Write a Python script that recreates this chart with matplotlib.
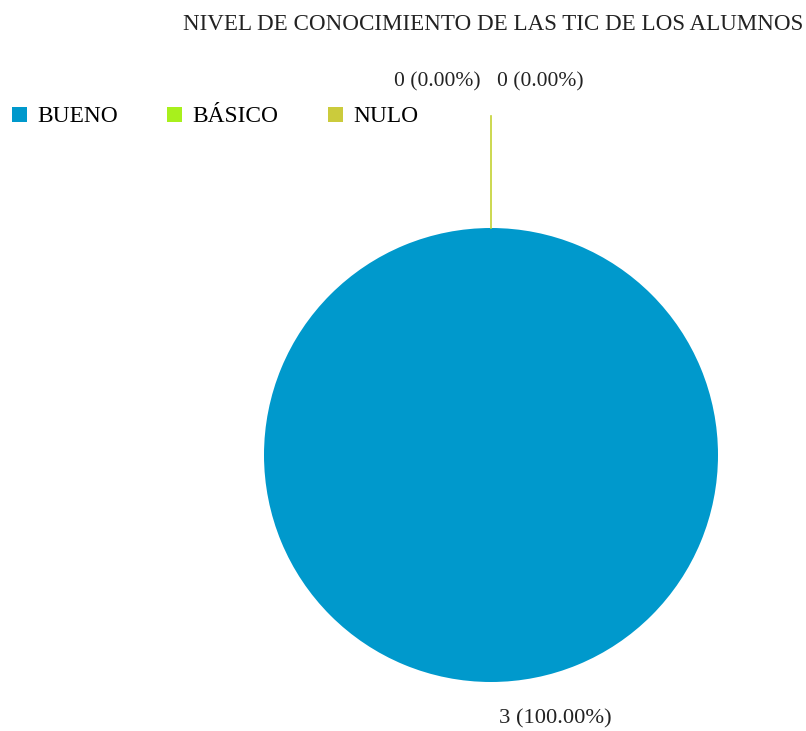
import numpy as np
import matplotlib
matplotlib.use("Agg")
import matplotlib.pyplot as plt

categories = ["BUENO", "BÁSICO", "NULO"]
counts = [3, 0, 0]
colors = ["#0099cc", "#a8f01c", "#cbcb3c"]
title = "NIVEL DE CONOCIMIENTO DE LAS TIC DE LOS ALUMNOS"

plt.rcParams["font.family"] = ["Liberation Serif", "DejaVu Serif"]

W, H = 806, 731
fig = plt.figure(figsize=(W / 100, H / 100), dpi=100)
ax = fig.add_axes([0, 0, 1, 1])

center = (491, 276)
radius = 227

wedges, _ = ax.pie(counts, colors=colors, startangle=90, counterclock=False,
                   center=center, radius=radius, frame=True)
ax.set_xlim(0, W)
ax.set_ylim(0, H)
ax.set_aspect("equal")
ax.axis("off")

total = sum(counts)
labels = [f"{v} ({100 * v / total:.2f}%)" for v in counts]

# leader line for the zero slices at the top
top_y = center[1] + radius
ax.plot([center[0], center[0]], [top_y, top_y + 112], color="#c3d232", lw=1.2)

ax.text(555, 12, labels[0], ha="center", va="center", fontsize=16.2, color="#222222")
ax.text(437, 649, labels[1], ha="center", va="center", fontsize=15.5, color="#222222")
ax.text(540, 649, labels[2], ha="center", va="center", fontsize=15.5, color="#222222")

fig.text(493 / W, 1 - 25 / H, title, ha="center", va="center", fontsize=16.6, color="#222222")

leg = ax.legend(wedges, categories, ncol=3, frameon=False, loc="center left",
                bbox_to_anchor=(0 / W, 1 - 117 / H), bbox_transform=fig.transFigure,
                fontsize=16.8, handlelength=0.65, handleheight=0.65, handletextpad=0.45,
                columnspacing=2.1, borderpad=0)

fig.savefig("out.png", dpi=100)
